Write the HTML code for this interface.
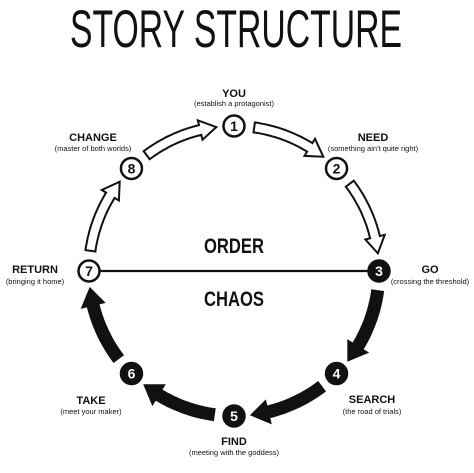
<!DOCTYPE html>
<html><head><meta charset="utf-8"><style>
html,body{margin:0;padding:0;background:#fff;}
svg{display:block;}
text{font-family:"Liberation Sans",sans-serif;fill:#111;}
.h{font-weight:bold;font-size:11px;}
.s{font-size:7.5px;}
</style></head><body>
<svg id="sv" width="474" height="473" viewBox="0 0 474 473">
<text x="70" y="47" font-size="53" textLength="332" lengthAdjust="spacingAndGlyphs">STORY STRUCTURE</text>
<line x1="100" y1="271" x2="370" y2="271" stroke="#111" stroke-width="2.2"/>
<text x="234" y="253" class="h" font-size="21" text-anchor="middle" style="font-size:21px" textLength="60" lengthAdjust="spacingAndGlyphs">ORDER</text>
<text x="234" y="306" class="h" text-anchor="middle" style="font-size:21px" textLength="60" lengthAdjust="spacingAndGlyphs">CHAOS</text>
<g text-anchor="middle">
<text x="234" y="97" class="h">YOU</text><text x="234" y="106" class="s">(establish a protagonist)</text>
<text x="93" y="141" class="h">CHANGE</text><text x="93" y="151" class="s">(master of both worlds)</text>
<text x="373" y="141" class="h">NEED</text><text x="373" y="151" class="s">(something ain't quite right)</text>
<text x="35" y="273" class="h">RETURN</text><text x="35" y="284" class="s">(bringing it home)</text>
<text x="430" y="273" class="h">GO</text><text x="430" y="284" class="s">(crossing the threshold)</text>
<text x="91" y="404" class="h">TAKE</text><text x="91" y="414" class="s">(meet your maker)</text>
<text x="372" y="403" class="h">SEARCH</text><text x="372" y="414" class="s">(the road of trials)</text>
<text x="234" y="445" class="h">FIND</text><text x="234" y="455" class="s">(meeting with the goddess)</text>
</g>
<g id="arrows"></g>
<g id="nodes"></g>
</svg>
<script>
var cx=234,cy=271,R=145,NS="http://www.w3.org/2000/svg";
function P(r,a){a=a*Math.PI/180;return (cx+r*Math.cos(a)).toFixed(1)+","+(cy+r*Math.sin(a)).toFixed(1);}
function arrow(a0,a1,fill,w,hw){
  var hl=6.5; var ah=a1-hl; var pts=[];
  for(var a=a0;a<=ah+0.01;a+=1)pts.push(P(R+w,a));
  pts.push(P(R+w,ah));pts.push(P(R+hw,ah));pts.push(P(R,a1));pts.push(P(R-hw,ah));pts.push(P(R-w,ah));
  for(var a=ah;a>=a0-0.01;a-=1)pts.push(P(R-w,a));
  pts.push(P(R-w,a0));
  var p=document.createElementNS(NS,"polygon");p.setAttribute("points",pts.join(" "));
  p.setAttribute("fill",fill);p.setAttribute("stroke","#111");p.setAttribute("stroke-width","2");p.setAttribute("stroke-linejoin","miter");
  document.getElementById("arrows").appendChild(p);
}
var starts=[180,225,270,315,0,45,90,135];
for(var i=0;i<8;i++){
  var s=starts[i], black=(i>=4);
  arrow(s+8,s+45-7,black?"#111":"#fff",black?5.5:5,black?11:10);
}
var nodes=[[1,270,0],[2,315,0],[3,0,1],[4,45,1],[5,90,1],[6,135,1],[7,180,0],[8,225,0]];
nodes.forEach(function(n){
  var a=n[1]*Math.PI/180,x=cx+R*Math.cos(a),y=cy+R*Math.sin(a);
  var c=document.createElementNS(NS,"circle");c.setAttribute("cx",x);c.setAttribute("cy",y);c.setAttribute("r",10.5);
  c.setAttribute("fill",n[2]?"#111":"#fff");c.setAttribute("stroke","#111");c.setAttribute("stroke-width","2.5");
  document.getElementById("nodes").appendChild(c);
  var t=document.createElementNS(NS,"text");t.setAttribute("x",x);t.setAttribute("y",y+5);t.setAttribute("text-anchor","middle");
  t.setAttribute("style","font-weight:bold;font-size:14px;fill:"+(n[2]?"#fff":"#111"));t.textContent=n[0];
  document.getElementById("nodes").appendChild(t);
});
</script>
</body></html>
